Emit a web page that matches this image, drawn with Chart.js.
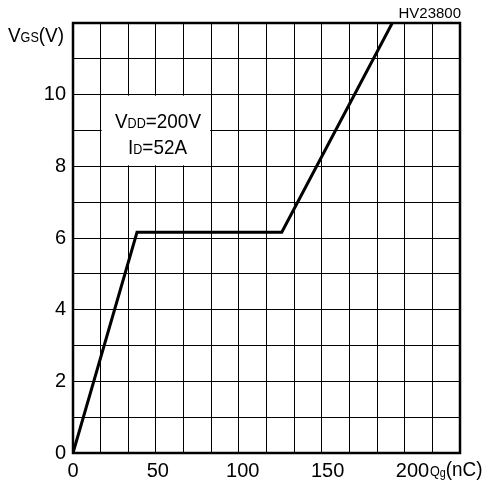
<!DOCTYPE html>
<html>
<head>
<meta charset="utf-8">
<script src="https://cdn.jsdelivr.net/npm/chart.js@4.4.1/dist/chart.umd.min.js"></script>
<style>
  html, body { margin: 0; padding: 0; background: #fff; }
  #wrap { width: 484px; height: 481px; position: relative; }
</style>
</head>
<body>
<div id="wrap"><canvas id="gate-charge-chart"></canvas></div>
<script>
// Gate charge curve
const qCharge = [0, 37.7, 123.0, 188.1];     // Qg (nC)
const vGate = [0, 6.16, 6.16, 12];           // VGS (V)
const xTickValues = [0, 50, 100, 150, 200];  // labelled charge ticks
const yTickValues = [0, 2, 4, 6, 8, 10];     // labelled voltage ticks
const xMax = 228;
const xGridCount = 14;
const yMax = 12;
const noteLines = [
    [['V', 21], ['DD', 14], ['=200V', 21]],
    [['I', 21], ['D', 14], ['=52A', 21]]
];

const FONT = '"Liberation Sans", Arial, sans-serif';
const SQUEEZE = 0.9; // the sheet's lettering is a bit narrower than Liberation

// draws runs of mixed-size text from left x on baseline y
function drawRuns(ctx, runs, x, y) {
    ctx.save();
    ctx.translate(x, y);
    ctx.scale(SQUEEZE, 1);
    let cx = 0;
    runs.forEach(([text, size, dy]) => {
        ctx.font = size + 'px ' + FONT;
        ctx.fillText(text, cx, dy || 0);
        cx += ctx.measureText(text).width;
    });
    ctx.restore();
}

const sheetDecor = {
    id: 'sheetDecor',
    beforeDatasetsDraw(chart) {
        const ctx = chart.ctx;
        const sx = chart.scales.x, sy = chart.scales.y;
        // white box behind the test conditions
        const x0 = sx.getPixelForValue(xMax / xGridCount);
        const x1 = sx.getPixelForValue(5 * xMax / xGridCount);
        const y0 = sy.getPixelForValue(10);
        const y1 = sy.getPixelForValue(8);
        ctx.save();
        ctx.fillStyle = '#fff';
        ctx.fillRect(x0 + 1, y0 + 1, x1 - x0 - 2, y1 - y0 - 2);
        ctx.fillStyle = '#000';
        ctx.textBaseline = 'alphabetic';
        drawRuns(ctx, noteLines[0], 115, 128);
        drawRuns(ctx, noteLines[1], 128, 154);
        ctx.restore();
    },
    afterDraw(chart) {
        const ctx = chart.ctx;
        const a = chart.chartArea;
        ctx.save();
        ctx.strokeStyle = '#000';
        ctx.lineWidth = 2.5;
        ctx.strokeRect(a.left, a.top, a.right - a.left, a.bottom - a.top);
        ctx.fillStyle = '#000';
        ctx.textBaseline = 'alphabetic';
        drawRuns(ctx, [['V', 21], ['GS', 14], ['(V)', 21]], 8, 42);
        drawRuns(ctx, [['Q', 14], ['g', 12, 1], ['(nC)', 21]], 430, 476);
        ctx.font = '15px ' + FONT;
        ctx.textAlign = 'right';
        ctx.fillText('HV23800', 461, 18);
        ctx.restore();
    }
};

const ctx = document.getElementById('gate-charge-chart').getContext('2d');
const chart = new Chart(ctx, {
    type: 'line',
    data: {
        datasets: [{
            data: qCharge.map((q, i) => ({ x: q, y: vGate[i] })),
            borderColor: '#000',
            borderWidth: 3,
            pointRadius: 0,
            tension: 0,
            fill: false,
            xAxisID: 'x',
            yAxisID: 'y'
        }]
    },
    options: {
        responsive: true,
        maintainAspectRatio: false,
        animation: false,
        layout: { padding: { left: 0, right: 24, top: 23, bottom: 0 } },
        plugins: {
            legend: { display: false },
            tooltip: { enabled: false }
        },
        scales: {
            x: {
                type: 'linear',
                position: 'bottom',
                min: 0,
                max: xMax,
                afterBuildTicks: s => { s.ticks = xTickValues.map(v => ({ value: v })); },
                afterFit: s => { s.height = 28; },
                grid: { display: false },
                border: { display: false },
                ticks: {
                    color: '#000',
                    font: { family: FONT, size: 20 },
                    padding: -2,
                    maxRotation: 0,
                    autoSkip: false
                }
            },
            xg: {
                type: 'linear',
                position: 'top',
                min: 0,
                max: xMax,
                afterBuildTicks: s => {
                    const t = [];
                    for (let i = 0; i <= xGridCount; i++) t.push({ value: i * xMax / xGridCount });
                    s.ticks = t;
                },
                afterFit: s => { s.height = 0; },
                grid: { color: '#000', lineWidth: 1, drawTicks: false },
                border: { display: false },
                ticks: { display: false }
            },
            y: {
                type: 'linear',
                min: 0,
                max: yMax,
                afterFit: s => { s.width = 73; },
                grid: { color: '#000', lineWidth: 1, drawTicks: false },
                border: { display: false },
                ticks: {
                    stepSize: 1,
                    color: '#000',
                    font: { family: FONT, size: 20 },
                    padding: 7,
                    autoSkip: false,
                    callback: v => yTickValues.includes(v) ? String(v) : ''
                }
            }
        }
    },
    plugins: [sheetDecor]
});
</script>
</body>
</html>
